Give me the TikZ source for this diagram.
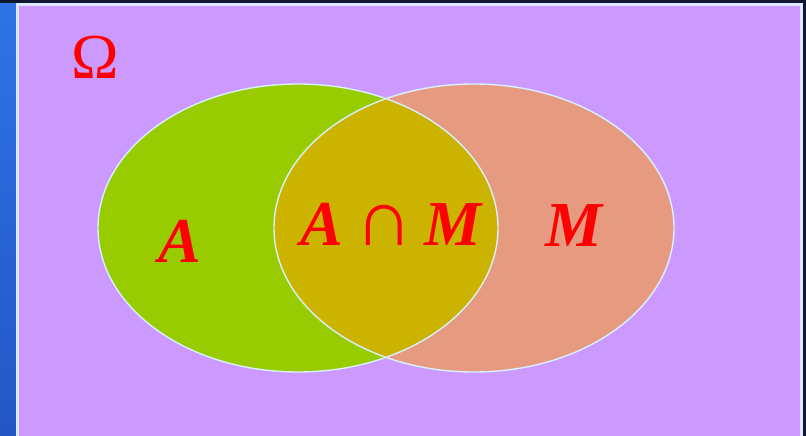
\documentclass[tikz,border=0pt]{standalone}
\usepackage{fontspec}
\setmainfont{Liberation Serif}
\usetikzlibrary{positioning, shapes.geometric}
\definecolor{clrUniverse}{HTML}{CC99FF}
\definecolor{clrSetA}{HTML}{99CC00}
\definecolor{clrSetM}{HTML}{E69A80}
\definecolor{clrMeet}{HTML}{CCB300}
\definecolor{clrEdge}{HTML}{D8F0FF}
\definecolor{clrFrame}{HTML}{E0E8FF}
\definecolor{clrText}{HTML}{FF0000}
\definecolor{clrNavy}{HTML}{0E1630}
\definecolor{clrBlueTop}{HTML}{2F73E6}
\definecolor{clrBlueBot}{HTML}{2356C4}

\begin{document}
\begin{tikzpicture}[
  x=1pt, y=-1pt,
  setlabel/.style = {
    font=\fontsize{64}{64}\selectfont\bfseries\itshape,
    text=clrText,
    inner sep=0pt
  },
  outline/.style = {
    draw=clrEdge,
    line width=1.4pt
  }
]

% ── surroundings ─────────────────────────────────────────────────────────────
\useasboundingbox (0,0) rectangle (806,436);
\fill[clrNavy] (0,0) rectangle (806,436);
\shade[top color=clrBlueTop, bottom color=clrBlueBot] (0,4) rectangle (18,436);

% ── universe ─────────────────────────────────────────────────────────────────
\fill[clrFrame] (16,3) rectangle (803,436);
\fill[clrUniverse] (19,6) rectangle (800,436);

\node[font=\fontsize{64}{64}\selectfont, text=clrText, inner sep=0pt]
  (omega) at (95,57) {Ω};

% ── sets ─────────────────────────────────────────────────────────────────────
\fill[clrSetA] (298,228) ellipse [x radius=200, y radius=144];
\fill[clrSetM] (474,228) ellipse [x radius=200, y radius=144];
\begin{scope}
  \clip (298,228) ellipse [x radius=200, y radius=144];
  \fill[clrMeet] (474,228) ellipse [x radius=200, y radius=144];
\end{scope}

\node[outline, ellipse, minimum width=400, minimum height=288, inner sep=0pt]
  (setA) at (298,228) {};
\node[outline, ellipse, minimum width=400, minimum height=288, inner sep=0pt]
  (setM) at (474,228) {};

% ── labels ───────────────────────────────────────────────────────────────────
\node[setlabel] (labA)    at (180,241) {A};
\node[setlabel] (labMeet) at (391,224)
  {A\hspace{12pt}{\fontsize{80}{80}\selectfont ∩}\hspace{12pt}M};
\node[setlabel] (labM)    at (574,226) {M};

\end{tikzpicture}
\end{document}
